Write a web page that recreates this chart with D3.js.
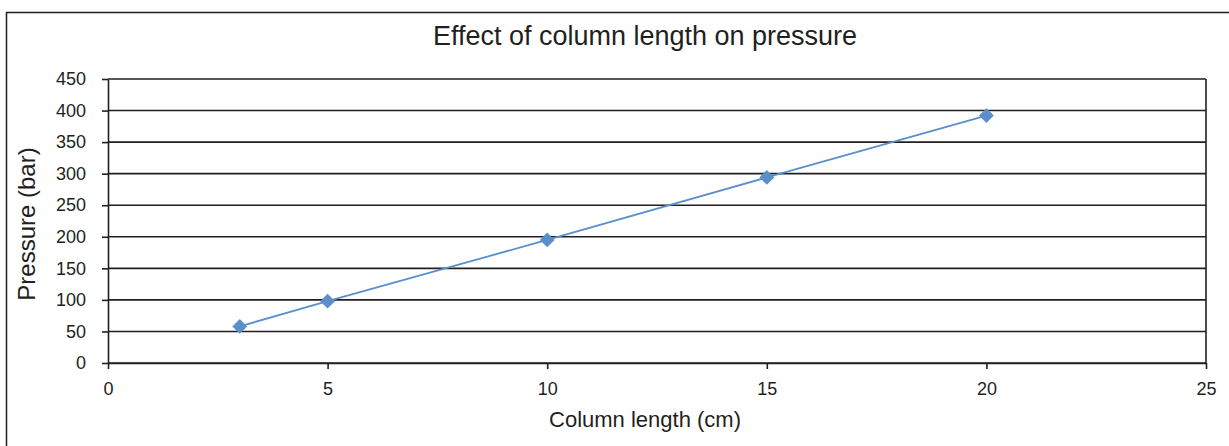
<!DOCTYPE html>
<html>
<head>
<meta charset="utf-8">
<script src="https://cdn.jsdelivr.net/npm/d3@7"></script>
<style>
  body { margin: 0; background: #fff; }
  text { font-family: "Liberation Sans", Arial, sans-serif; fill: #231f20; }
</style>
</head>
<body>
<script>
// column length (cm) vs pressure (bar)
var lengths = [3, 5, 10, 15, 20]
var pressures = [58, 98, 195, 294, 392]
var xTicks = [0, 5, 10, 15, 20, 25]
var yTicks = [0, 50, 100, 150, 200, 250, 300, 350, 400, 450]

var screen = {width: 1229, height: 446}
var margins = {top: 79, bottom: 83, left: 108, right: 23}
var width = screen.width - margins.left - margins.right
var height = screen.height - margins.top - margins.bottom

var xScale = d3.scaleLinear().domain([0, 25]).range([0, width])
var yScale = d3.scaleLinear().domain([0, 450]).range([height, 0])

var svg = d3.select("body")
  .append("svg")
  .attr("width", screen.width)
  .attr("height", screen.height)

// outer frame (runs off the right and bottom)
svg.append("rect")
  .attr("x", 6.5).attr("y", 12.5)
  .attr("width", 1240).attr("height", 460)
  .attr("fill", "none")
  .attr("stroke", "#231f20")
  .attr("stroke-width", 1.5)

var plot = svg.append("g")
  .attr("transform", "translate(" + margins.left + "," + margins.top + ")")

// gridlines
plot.append("g")
  .selectAll("line")
  .data(yTicks)
  .enter()
  .append("line")
  .attr("x1", 0).attr("x2", width)
  .attr("y1", function(d) { return yScale(d) })
  .attr("y2", function(d) { return yScale(d) })
  .attr("stroke", "#231f20")
  .attr("stroke-width", 1.6)

// right edge of plot area
plot.append("line")
  .attr("x1", width).attr("x2", width)
  .attr("y1", 0).attr("y2", height)
  .attr("stroke", "#231f20")
  .attr("stroke-width", 1.6)

var xAxis = d3.axisBottom(xScale).tickValues(xTicks).tickSize(6).tickPadding(13).tickSizeOuter(0)
var yAxis = d3.axisLeft(yScale).tickValues(yTicks).tickSize(6).tickPadding(16).tickSizeOuter(0)

var gx = plot.append("g")
  .attr("transform", "translate(0," + height + ")")
  .call(xAxis)
var gy = plot.append("g").call(yAxis)

;[gx, gy].forEach(function(g) {
  g.selectAll("path, line").attr("stroke", "#231f20").attr("stroke-width", 1.6)
  g.selectAll("text").style("font-size", "18px").attr("fill", "#231f20")
})

// series
var pts = lengths.map(function(d, i) { return {x: d, y: pressures[i]} })

var line = d3.line()
  .x(function(d) { return xScale(d.x) })
  .y(function(d) { return yScale(d.y) })

plot.append("path")
  .datum(pts)
  .attr("d", line)
  .attr("fill", "none")
  .attr("stroke", "#5b8fcc")
  .attr("stroke-width", 1.8)

plot.append("g")
  .selectAll("path")
  .data(pts)
  .enter()
  .append("path")
  .attr("d", d3.symbol().type(d3.symbolDiamond2).size(140))
  .attr("transform", function(d) { return "translate(" + xScale(d.x) + "," + yScale(d.y) + ")" })
  .attr("fill", "#5b8fcc")

// titles
svg.append("text")
  .attr("x", 645).attr("y", 45)
  .attr("text-anchor", "middle")
  .style("font-size", "27px")
  .text("Effect of column length on pressure")

svg.append("text")
  .attr("x", 645).attr("y", 427)
  .attr("text-anchor", "middle")
  .style("font-size", "22px")
  .text("Column length (cm)")

svg.append("text")
  .attr("transform", "rotate(-90)")
  .attr("x", -224).attr("y", 35)
  .attr("text-anchor", "middle")
  .style("font-size", "24px")
  .text("Pressure (bar)")
</script>
</body>
</html>
